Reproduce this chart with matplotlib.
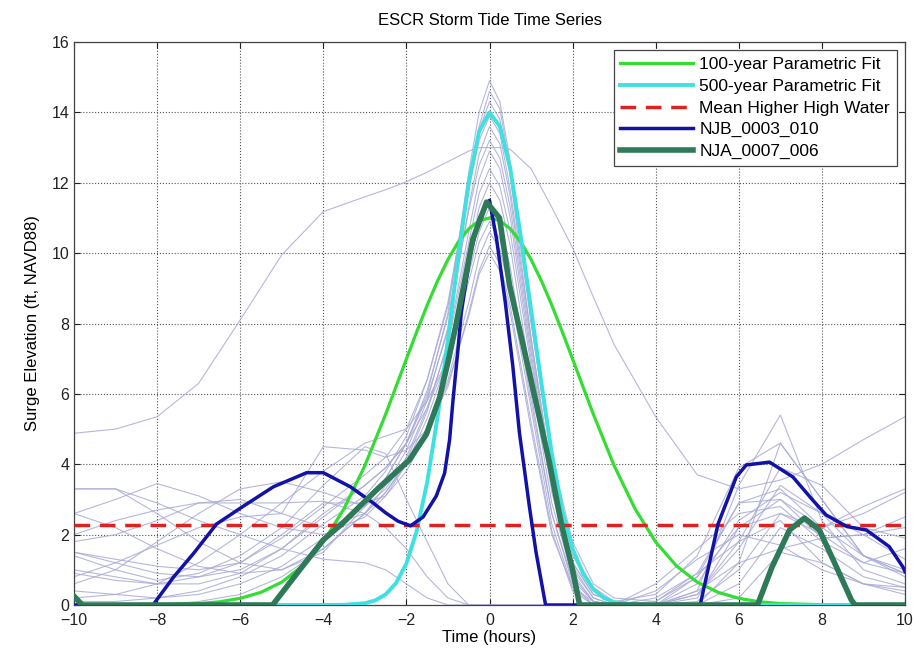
import matplotlib
matplotlib.use("Agg")
import matplotlib.pyplot as plt

plt.rcParams.update({"font.family": ["Liberation Sans", "DejaVu Sans"],
                     "font.size": 11})

# ---- data ----
# faint background storm runs, all on one time grid (hours)
T_RUN = [-10, -9, -8, -7, -6, -5, -4, -3, -2.5, -2, -1.5, -1, -0.5, -0.25, 0,
         0.25, 0.5, 1, 1.5, 2, 2.5, 3, 4, 5, 6, 7, 8, 9, 10]
STORM_RUNS = [
    [4.88, 5.0, 5.35, 6.3, 8.1, 9.95, 11.18, 11.6, 11.8, 12.03, 12.3, 12.6, 12.9, 13.0, 13.0,
     13.0, 12.95, 12.4, 11.3, 10.15, 8.75, 7.4, 5.35, 3.7, 3.3, 3.55, 4.0, 4.7, 5.35],
    [0.4, 0.3, 0.2, 0.3, 0.6, 1.1, 1.9, 3.0, 3.6, 4.6, 6.0, 8.3, 12.3, 14.0, 14.9,
     14.3, 12.6, 8.1, 4.0, 1.4, 0.4, 0.1, 0, 0.3, 1.8, 2.4, 1.2, 0.6, 0.5],
    [2.6, 2.2, 1.6, 1.1, 0.9, 1.0, 1.6, 2.6, 3.4, 4.4, 5.8, 7.9, 11.8, 13.6, 14.6,
     14.1, 12.4, 8.0, 4.2, 1.8, 0.6, 0.2, 0.1, 0.9, 2.9, 3.3, 2.2, 1.4, 0.9],
    [0.1, 0.1, 0.2, 0.4, 0.8, 1.4, 2.3, 3.1, 3.8, 4.8, 6.4, 8.6, 12.0, 13.5, 14.3,
     13.8, 12.2, 7.6, 3.6, 1.2, 0.3, 0.1, 0, 0, 1.2, 4.6, 3.0, 1.4, 0.8],
    [1.5, 1.2, 0.9, 0.8, 1.0, 1.6, 2.6, 3.4, 3.9, 4.6, 5.9, 7.8, 11.3, 12.8, 13.6,
     13.1, 11.6, 7.4, 3.5, 1.1, 0.2, 0, 0, 0.4, 3.4, 5.4, 2.4, 1.0, 0.6],
    [3.3, 3.3, 2.6, 1.8, 1.2, 1.0, 1.5, 2.8, 3.6, 4.6, 6.1, 8.2, 11.2, 12.5, 13.2,
     12.7, 11.3, 7.2, 3.3, 0.9, 0.1, 0, 0, 0.2, 2.2, 3.0, 2.2, 2.6, 3.2],
    [1.8, 2.0, 2.4, 2.9, 3.0, 2.6, 2.2, 2.6, 3.2, 4.1, 5.5, 7.5, 10.6, 12.1, 12.9,
     12.4, 11.0, 7.0, 3.4, 1.2, 0.3, 0.1, 0.3, 1.4, 3.9, 4.6, 3.0, 1.4, 0.9],
    [0.6, 1.0, 1.8, 2.6, 3.3, 3.5, 3.2, 2.8, 3.3, 4.2, 5.6, 7.4, 10.3, 11.7, 12.4,
     11.9, 10.6, 6.8, 3.2, 1.0, 0.2, 0, 0.6, 1.6, 2.6, 2.8, 1.8, 1.2, 1.6],
    [2.6, 3.0, 3.45, 3.1, 2.6, 2.2, 2.0, 2.5, 3.1, 4.0, 5.3, 7.0, 9.8, 11.3, 12.0,
     11.5, 10.2, 6.4, 2.9, 0.8, 0.1, 0, 0, 0.3, 1.6, 3.4, 2.6, 1.4, 1.0],
    [0.2, 0.3, 0.6, 1.2, 2.0, 2.9, 3.8, 4.6, 4.8, 5.0, 5.8, 7.0, 9.4, 10.6, 11.3,
     10.9, 9.6, 6.0, 2.6, 0.6, 0, 0, 0, 0, 0.6, 2.2, 1.6, 0.8, 0.5],
    [1.0, 0.8, 0.6, 0.6, 0.9, 1.6, 2.5, 3.4, 3.9, 4.6, 5.6, 7.0, 9.2, 10.3, 10.9,
     10.4, 9.3, 5.8, 2.6, 0.7, 0.1, 0, 0.2, 0.9, 1.8, 3.9, 3.4, 2.2, 1.9],
    [1.5, 1.3, 1.1, 1.0, 1.2, 2.0, 2.9, 2.9, 3.1, 3.8, 4.9, 6.4, 8.6, 9.9, 10.6,
     10.1, 8.9, 5.6, 2.3, 0.5, 0, 0, 0, 0.1, 1.0, 2.6, 2.0, 1.2, 0.9],
    [0.8, 1.2, 1.7, 2.2, 2.5, 2.6, 4.5, 4.4, 4.2, 4.4, 5.0, 6.2, 8.3, 9.5, 10.2,
     9.7, 8.5, 5.2, 2.1, 0.4, 0, 0, 0.1, 0.8, 2.9, 3.0, 1.9, 2.0, 2.5],
    [0, 0, 0, 0.1, 0.3, 0.8, 1.6, 2.6, 3.2, 4.0, 5.0, 6.3, 8.2, 9.4, 10.0,
     9.5, 8.3, 5.0, 2.0, 0.5, 0.1, 0, 0, 0, 0.2, 1.5, 1.2, 0.6, 0.3],
    [0.9, 0.7, 0.6, 0.8, 1.2, 1.9, 2.8, 3.7, 4.2, 5.0, 6.4, 8.5, 11.8, 13.2, 13.9,
     13.4, 11.8, 7.6, 3.7, 1.5, 0.5, 0.1, 0, 0.6, 2.4, 3.2, 2.6, 2.0, 1.3],
    [3.3, 3.3, 2.9, 2.4, 2.0, 1.6, 1.3, 1.2, 1.0, 0.6, 0.2, 0, 0, 0, 0,
     0, 0, 0, 0, 0, 0, 0, 0, 0.8, 2.2, 2.6, 2.2, 2.8, 3.3],
    [2.0, 2.4, 2.7, 2.9, 2.9, 2.9, 2.95, 2.6, 2.2, 1.6, 0.8, 0.2, 0, 0, 0,
     0, 0, 0, 0, 0, 0, 0, 0.4, 1.3, 2.0, 1.7, 1.0, 0.6, 0.4],
    [1.4, 1.0, 0.7, 0.9, 1.4, 2.2, 3.4, 4.5, 4.3, 3.0, 1.8, 0.6, 0, 0, 0,
     0, 0, 0, 0, 0, 0, 0, 0, 0.4, 1.2, 1.6, 1.9, 2.0, 2.2],
]

# parametric fits
T_100 = [-10, -9, -8, -7, -6.5, -6, -5.5, -5, -4.5, -4, -3.5, -3, -2.5, -2, -1.75, -1.5,
         -1.25, -1, -0.75, -0.5, -0.25, 0, 0.25, 0.5, 0.75, 1, 1.25, 1.5, 1.75, 2, 2.5, 3,
         3.5, 4, 4.5, 5, 5.5, 6, 6.5, 7, 8, 9, 10]
FIT_100 = [0, 0, 0.01, 0.04, 0.09, 0.19, 0.36, 0.65, 1.11, 1.79, 2.74, 3.96, 5.42, 6.99,
           7.77, 8.52, 9.21, 9.82, 10.32, 10.69, 10.92, 11.0, 10.92, 10.69, 10.32, 9.82,
           9.21, 8.52, 7.77, 6.99, 5.42, 3.96, 2.74, 1.79, 1.11, 0.65, 0.36, 0.19, 0.09,
           0.04, 0.01, 0, 0]
T_500 = [-10, -4, -3.5, -3, -2.75, -2.5, -2.25, -2, -1.75, -1.5, -1.25, -1, -0.75, -0.5,
         -0.25, 0, 0.25, 0.5, 0.75, 1, 1.25, 1.5, 1.75, 2, 2.25, 2.5, 2.75, 3, 3.5, 4, 10]
FIT_500 = [0, 0, 0.005, 0.05, 0.13, 0.3, 0.62, 1.18, 2.11, 3.49, 5.34, 7.55, 9.9, 12.0,
           13.46, 14.0, 13.6, 12.4, 10.5, 8.4, 6.3, 4.3, 2.7, 1.6, 0.9, 0.45, 0.2, 0.08,
           0.01, 0, 0]
MHHW = 2.28

# selected storms
T_NJB = [-10, -8.1, -7.6, -7.12, -6.57, -6.0, -5.2, -4.4, -4.0, -3.35, -2.8, -2.5, -2.2,
         -1.9, -1.6, -1.28, -1.08, -0.96, -0.88, -0.76, -0.68, -0.46, -0.24, 0.0, 0.17,
         0.38, 0.56, 0.72, 0.96, 1.12, 1.35, 5.07, 5.5, 5.94, 6.18, 6.74, 7.3, 7.78, 8.1,
         8.6, 9.07, 9.62, 9.95, 10]
NJB = [0, 0, 0.8, 1.47, 2.3, 2.75, 3.36, 3.76, 3.76, 3.36, 2.9, 2.62, 2.38, 2.25, 2.5,
       3.1, 3.75, 4.7, 5.8, 7.25, 8.3, 10.0, 11.0, 11.5, 10.4, 8.6, 6.8, 4.9, 2.8, 1.5,
       0, 0, 2.3, 3.64, 3.98, 4.06, 3.64, 2.98, 2.56, 2.23, 2.13, 1.66, 1.08, 0.95]
T_NJA = [-10, -9.8, -5.22, -4.6, -4.0, -3.53, -2.72, -1.93, -1.52, -1.2, -1.0, -0.8, -0.4,
         -0.07, 0.24, 0.48, 0.75, 1.13, 1.45, 1.73, 2.0, 2.17, 6.45, 6.8, 7.22, 7.58, 7.94,
         8.35, 8.71, 8.8, 10]
NJA = [0.25, 0, 0, 0.95, 1.85, 2.33, 3.27, 4.12, 4.85, 5.9, 6.9, 8.0, 10.4, 11.45, 11.0,
       9.1, 7.7, 5.7, 4.0, 2.3, 1.0, 0, 0, 1.08, 2.13, 2.47, 2.13, 1.08, 0.14, 0, 0]

fig = plt.figure(figsize=(9.13, 6.5), dpi=100)
ax = fig.add_axes([74 / 913, 45 / 650, 831 / 913, 563 / 650])

for run in STORM_RUNS:
    ax.plot(T_RUN, run, color="#a9aad6", lw=0.8, alpha=0.85, zorder=2)

ax.plot(T_100, FIT_100, color="#33dd33", lw=2.3, label="100-year Parametric Fit", zorder=3)
ax.plot(T_500, FIT_500, color="#3ee0e0", lw=2.8, label="500-year Parametric Fit", zorder=4)
ax.axhline(MHHW, color="#dd2222", lw=2.5, ls=(0, (4.5, 2.8)),
           label="Mean Higher High Water", zorder=5)
ax.plot(T_NJB, NJB, color="#1212a8", lw=2.5, label="NJB_0003_010", zorder=6)
ax.plot(T_NJA, NJA, color="#2e7a58", lw=4.0, label="NJA_0007_006", zorder=7)

ax.set_xlim(-10, 10)
ax.set_ylim(0, 16)
ax.set_xticks(range(-10, 11, 2))
ax.set_yticks(range(0, 17, 2))
ax.tick_params(direction="in", top=True, right=True, length=4, width=0.8,
               labelsize=11.5, colors="#222222")
ax.tick_params(axis="x", pad=6)
for s in ax.spines.values():
    s.set_color("#444444")
    s.set_linewidth(0.9)
ax.grid(True, linestyle=":", color="#555555", linewidth=0.8, zorder=1)
ax.set_axisbelow(True)

ax.set_title("ESCR Storm Tide Time Series", fontsize=12, pad=12)
ax.set_xlabel("Time (hours)", fontsize=12, labelpad=1)
ax.set_ylabel("Surge Elevation (ft, NAVD88)", fontsize=12, labelpad=8)

leg = ax.legend(loc="upper right", bbox_to_anchor=(0.9904, 0.9858), borderaxespad=0,
                fontsize=12.5, handlelength=4.2, labelspacing=0.38, handletextpad=0.35,
                fancybox=False, framealpha=1, edgecolor="#444444", borderpad=0.4)
leg.get_frame().set_linewidth(0.9)

fig.savefig("out.png", dpi=100)
